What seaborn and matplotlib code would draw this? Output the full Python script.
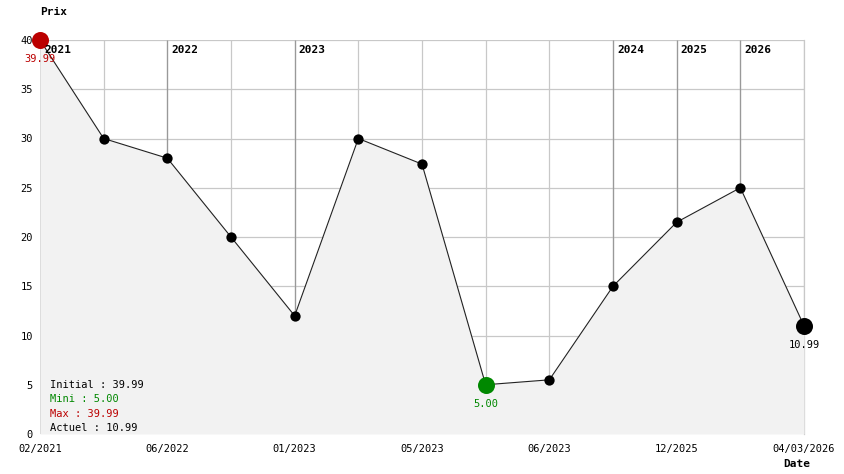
import seaborn as sns
import matplotlib.pyplot as plt
import pandas as pd

# --- data ---
prices = [39.99, 30.0, 28.0, 20.0, 12.0, 30.0, 27.4, 5.0, 5.5, 15.0, 21.5, 25.0, 10.99]
tick_idx = [0, 2, 4, 6, 8, 10, 12]
tick_labels = ["02/2021", "06/2022", "01/2023", "05/2023", "06/2023", "12/2025", "04/03/2026"]
year_idx = [0, 2, 4, 9, 10, 11]
year_labels = ["2021", "2022", "2023", "2024", "2025", "2026"]
y_ticks = [0, 5, 10, 15, 20, 25, 30, 35, 40]

RED = "#bb0000"
GREEN = "#008800"

sns.set_style("white")
plt.rcParams['font.family'] = ["DejaVu Sans Mono"]
plt.rcParams['font.size'] = 7.5
plt.rcParams['text.color'] = "black"
plt.rcParams['xtick.color'] = "black"
plt.rcParams['ytick.color'] = "black"

df = pd.DataFrame({"idx": range(len(prices)), "prix": prices})
i_min = df["prix"].idxmin()
i_max = df["prix"].idxmax()
i_last = len(df) - 1

fig = plt.figure(figsize=(8.44, 4.74), dpi=100)
ax = fig.add_axes([40 / 844, 40 / 474, 764 / 844, 394 / 474])

# grid under the filled area
ax.set_axisbelow(True)
ax.set_xticks(range(len(prices)), minor=True)
ax.grid(True, which="both", color="#c8c8c8", linewidth=0.9)
ax.fill_between(df["idx"], df["prix"], 0, color="#f2f2f2", zorder=1, linewidth=0)

# year marker lines from top down to the point
for i, lab in zip(year_idx, year_labels):
    ax.vlines(i, prices[i], 40, color="#999999", linewidth=0.9, zorder=1.5)
    ax.annotate(lab, (i, 40), xytext=(4, -10), textcoords="offset pixels",
                ha="left", va="center", fontweight="bold", fontsize=8, zorder=5)

sns.lineplot(data=df, x="idx", y="prix", ax=ax, color="#222222", linewidth=0.8, zorder=2)
normal = df.drop(index=[i_min, i_max, i_last])
sns.scatterplot(data=normal, x="idx", y="prix", ax=ax, color="black", s=55,
                linewidth=0, zorder=3)
sns.scatterplot(data=df.loc[[i_max]], x="idx", y="prix", ax=ax, color=RED, s=150,
                linewidth=0, zorder=4, clip_on=False)
sns.scatterplot(data=df.loc[[i_min]], x="idx", y="prix", ax=ax, color=GREEN, s=150,
                linewidth=0, zorder=4)
sns.scatterplot(data=df.loc[[i_last]], x="idx", y="prix", ax=ax, color="black", s=150,
                linewidth=0, zorder=4, clip_on=False)

for i, c in [(i_max, RED), (i_min, GREEN), (i_last, "black")]:
    ax.annotate(f"{prices[i]:.2f}", (i, prices[i]), xytext=(0, -19),
                textcoords="offset pixels", ha="center", va="center", color=c,
                zorder=6, annotation_clip=False)

ax.set_xlim(0, 12)
ax.set_ylim(0, 40)
ax.set_xticks(tick_idx)
ax.set_xticklabels(tick_labels)
ax.set_yticks(y_ticks)
ax.tick_params(length=0, pad=7)
ax.tick_params(axis="y", pad=5)
ax.set_xlabel("")
ax.set_ylabel("")
for s in ["left", "bottom", "top"]:
    ax.spines[s].set_visible(False)
ax.spines["right"].set_color("#c8c8c8")
ax.spines["right"].set_linewidth(0.9)
ax.spines["right"].set_zorder(0.6)

fig.text(40 / 844, 1 - 12 / 474, "Prix", fontweight="bold", fontsize=8, va="center")
fig.text(783 / 844, 1 - 464 / 474, "Date", fontweight="bold", fontsize=8, va="center")

summary = [
    (f"Initial : {prices[0]:.2f}", "black"),
    (f"Mini : {prices[i_min]:.2f}", GREEN),
    (f"Max : {prices[i_max]:.2f}", RED),
    (f"Actuel : {prices[i_last]:.2f}", "black"),
]
for k, (txt, c) in enumerate(summary):
    fig.text(50 / 844, 1 - (385 + 14.3 * k) / 474, txt, color=c, va="center")

fig.savefig("out.png", dpi=100)
